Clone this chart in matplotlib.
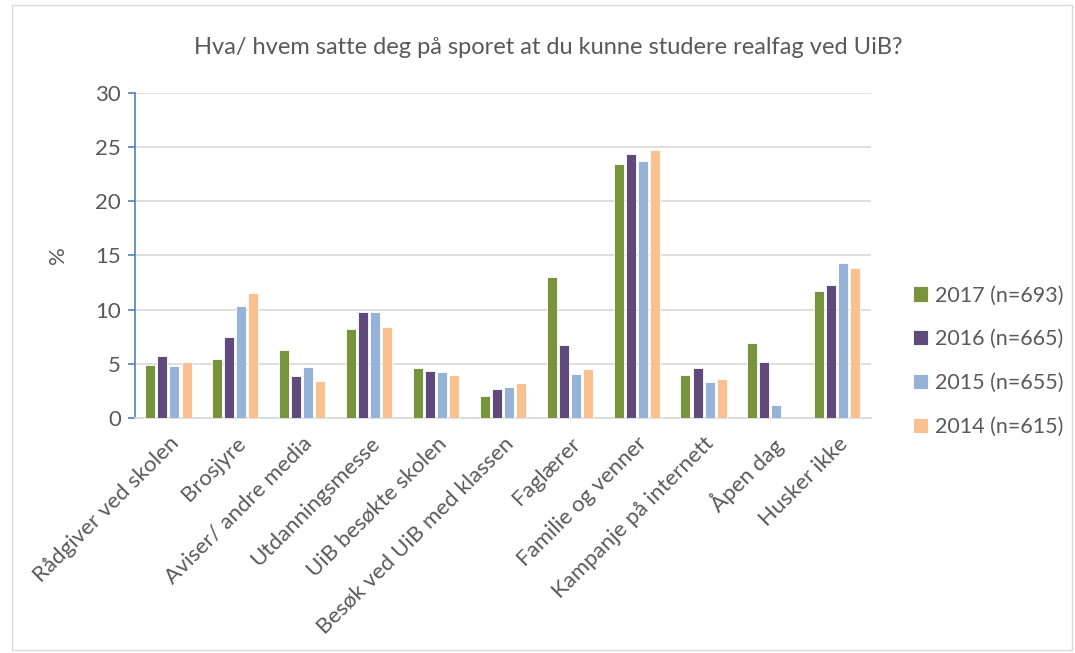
import matplotlib
matplotlib.use("Agg")
import matplotlib.pyplot as plt
from matplotlib.patches import Rectangle
import numpy as np

plt.rcParams['font.family'] = ['Lato', 'DejaVu Sans']

categories = ["Rådgiver ved skolen", "Brosjyre", "Aviser/ andre media",
              "Utdanningsmesse", "UiB besøkte skolen", "Besøk ved UiB med klassen",
              "Faglærer", "Familie og venner", "Kampanje på internett",
              "Åpen dag", "Husker ikke"]

v2017 = [4.9, 5.4, 6.3, 8.2, 4.6, 2.0, 13.0, 23.4, 4.0, 6.9, 11.7]
v2016 = [5.7, 7.5, 3.9, 9.8, 4.3, 2.7, 6.7, 24.4, 4.6, 5.2, 12.3]
v2015 = [4.8, 10.3, 4.7, 9.8, 4.2, 2.9, 4.1, 23.7, 3.3, 1.2, 14.3]
v2014 = [5.2, 11.5, 3.4, 8.4, 4.0, 3.2, 4.5, 24.7, 3.6, 0.0, 13.8]

series = [("2017 (n=693)", v2017, "#77933C"),
          ("2016 (n=665)", v2016, "#604A7B"),
          ("2015 (n=655)", v2015, "#95B3D7"),
          ("2014 (n=615)", v2014, "#FAC090")]

fig = plt.figure(figsize=(10.75, 6.53), dpi=100)
ax = fig.add_axes([0.1256, 0.360, 0.6844, 0.4976])

x = np.arange(len(categories))
step = 0.18
for i, (name, vals, col) in enumerate(series):
    ax.bar(x + (i - 1.5) * step, vals, width=0.15, color=col,
           edgecolor="white", linewidth=0.6, label=name, zorder=3)

ax.set_xlim(-0.5, len(categories) - 0.5)
ax.set_ylim(0, 30)
ax.set_yticks(range(0, 31, 5))
ax.yaxis.grid(True, color="#D9D9D9", linewidth=1.2, zorder=0)
ax.set_axisbelow(True)

for s in ["top", "right"]:
    ax.spines[s].set_visible(False)
ax.spines["bottom"].set_color("#D9D9D9")
ax.spines["bottom"].set_linewidth(1.2)
ax.spines["left"].set_color("#4F81BD")
ax.spines["left"].set_linewidth(1.2)
ax.tick_params(axis="y", colors="#4F81BD", length=5, width=1.2, direction="out",
               labelcolor="#595959", labelsize=16, pad=5)
ax.tick_params(axis="x", length=0, labelcolor="#595959", labelsize=16, pad=11)

ax.set_xticks(x)
ax.set_xticklabels(categories, rotation=45, ha="right", rotation_mode="anchor")
ax.set_ylabel("%", color="#595959", fontsize=16, labelpad=20)

fig.text(0.51, 0.928, "Hva/ hvem satte deg på sporet at du kunne studere realfag ved UiB?",
         ha="center", va="center", fontsize=17, color="#595959")

leg = ax.legend(loc="center left", bbox_to_anchor=(1.057, 0.175), frameon=False,
                fontsize=15.5, labelcolor="#595959", handlelength=0.7, handleheight=0.7,
                labelspacing=1.1, handletextpad=0.35, borderpad=0, borderaxespad=0)

fig.patches.append(Rectangle((0.011, 0.004), 0.986, 0.988, transform=fig.transFigure,
                             fill=False, edgecolor="#D9D9D9", linewidth=1.0))

fig.savefig("out.png", dpi=100)
